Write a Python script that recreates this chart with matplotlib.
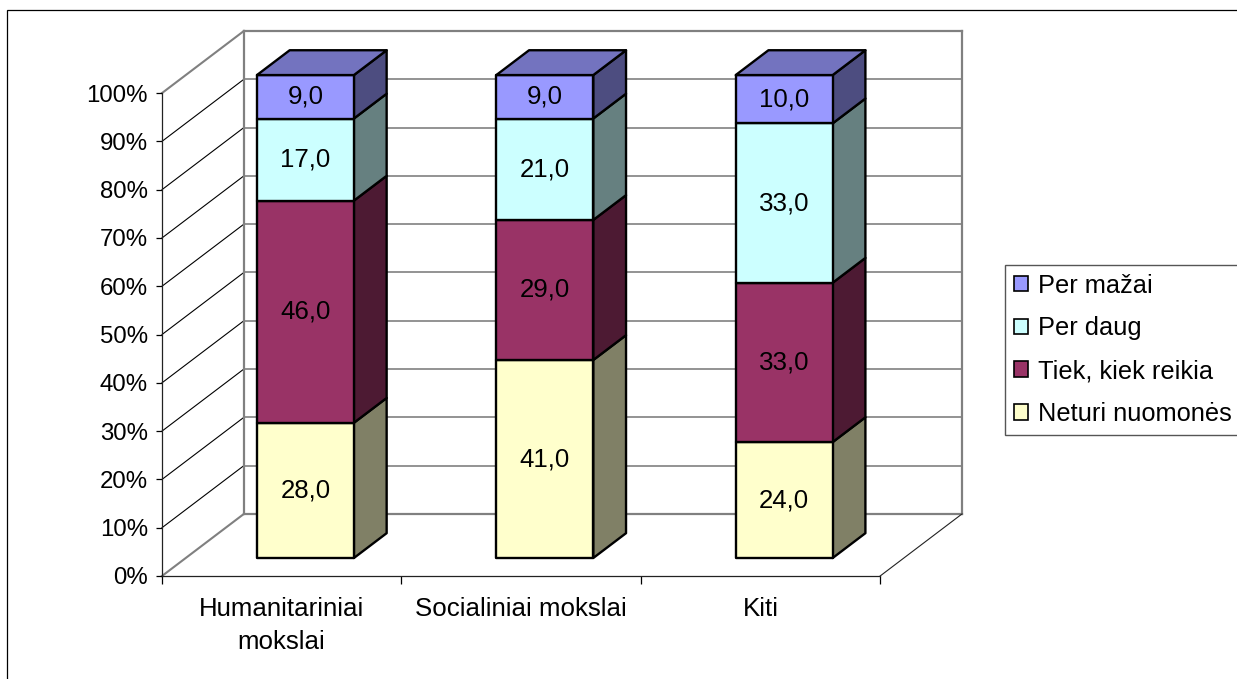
import matplotlib
matplotlib.use('Agg')
import matplotlib.pyplot as plt
from matplotlib.patches import Patch, Polygon, Rectangle

plt.rcParams['font.family'] = 'Liberation Sans'
plt.rcParams['font.size'] = 18.6

# Donnees
categories = ['Humanitariniai\nmokslai', 'Socialiniai mokslai', 'Kiti']
series_names = ['Neturi nuomonės', 'Tiek, kiek reikia', 'Per daug', 'Per mažai']
neturi = [28.0, 41.0, 24.0]
tiek = [46.0, 29.0, 33.0]
per_daug = [17.0, 21.0, 33.0]
per_mazai = [9.0, 9.0, 10.0]
series_values = [neturi, tiek, per_daug, per_mazai]
y_ticks = list(range(0, 101, 10))

front_colors = ['#FFFFCC', '#993366', '#CCFFFF', '#9999FF']
side_colors = ['#808066', '#4D1A33', '#668080', '#4D4D80']
top_color = '#7373BF'
wall_color = '#808080'

W, H = 1237, 679
# fausse 3D : decalage a l'ecran pour une profondeur de 1
depth_x = 0.342
depth_y = 12.85
bar_width = 0.405
bar_d0 = 0.29
bar_d1 = 0.69


def project(x, y, d):
    return x + d * depth_x, y + d * depth_y


def draw_segment(x_center, y0, y1, front, side, top=None):
    x0 = x_center - bar_width / 2
    x1 = x_center + bar_width / 2
    face = [project(x0, y0, bar_d0), project(x1, y0, bar_d0),
            project(x1, y1, bar_d0), project(x0, y1, bar_d0)]
    right = [project(x1, y0, bar_d0), project(x1, y0, bar_d1),
             project(x1, y1, bar_d1), project(x1, y1, bar_d0)]
    ax.add_patch(Polygon(right, fc=side, ec='black', lw=1.7, joinstyle='round', zorder=3))
    ax.add_patch(Polygon(face, fc=front, ec='black', lw=1.7, joinstyle='round', zorder=3))
    if top is not None:
        upper = [project(x0, y1, bar_d0), project(x1, y1, bar_d0),
                 project(x1, y1, bar_d1), project(x0, y1, bar_d1)]
        ax.add_patch(Polygon(upper, fc=top, ec='black', lw=1.7, joinstyle='round', zorder=3))


fig = plt.figure(figsize=(W / 100, H / 100), dpi=100)
ax = fig.add_axes([162 / W, (H - 576) / H, 800 / W, 545 / H])
n = len(categories)
ax.set_xlim(0, n + depth_x)
ax.set_ylim(0, 100 + depth_y)
ax.patch.set_visible(False)

# Cadre exterieur
fig.add_artist(Rectangle((7 / W, -0.01), 1.02, 1.01 - 10 / H, transform=fig.transFigure,
                         fc='none', ec='black', lw=0.9))

# Axes
ax.spines['top'].set_visible(False)
ax.spines['right'].set_visible(False)
for s in ['left', 'bottom']:
    ax.spines[s].set_linewidth(0.9)
    ax.spines[s].set_color('#222222')
ax.spines['left'].set_bounds(0, 100)
ax.spines['bottom'].set_bounds(0, n)

ax.set_yticks(y_ticks)
ax.set_yticklabels([f'{t}%' for t in y_ticks])
ax.tick_params(axis='y', length=4, width=0.9, pad=6, labelsize=17.3)
ax.set_xticks(range(n + 1))
ax.set_xticklabels([])
ax.tick_params(axis='x', which='major', length=6, width=0.9)
ax.set_xticks([i + 0.5 for i in range(n)], minor=True)
ax.set_xticklabels(categories, minor=True)
ax.tick_params(axis='x', which='minor', length=0, pad=15)
for lab in ax.get_xminorticklabels():
    lab.set_linespacing(1.5)

# Mur du fond et diagonales
for t in y_ticks:
    thick = t in (0, 100)
    xa, ya = project(0, t, 1)
    xb, yb = project(n, t, 1)
    ax.plot([xa, xb], [ya, yb], color=wall_color, lw=1.6 if thick else 1.2, zorder=1, clip_on=False)
    ax.plot([0, xa], [t, ya], color=wall_color if thick else 'black',
            lw=1.5 if thick else 0.8, zorder=1, clip_on=False)
for x in (0, n):
    xa, ya = project(x, 0, 1)
    xb, yb = project(x, 100, 1)
    ax.plot([xa, xb], [ya, yb], color=wall_color, lw=1.6, zorder=1, clip_on=False)
xa, ya = project(n, 0, 1)
ax.plot([n, xa], [0, ya], color='#222222', lw=0.8, zorder=1, clip_on=False)

# Barres empilees
for i in range(n):
    bottom = 0
    for j, values in enumerate(series_values):
        v = values[i]
        draw_segment(i + 0.5, bottom, bottom + v, front_colors[j], side_colors[j],
                     top_color if j == len(series_values) - 1 else None)
        tx, ty = project(i + 0.5, bottom + v / 2, bar_d0)
        ax.text(tx, ty, f'{v:.1f}'.replace('.', ','), ha='center', va='center',
                color='black', zorder=4)
        bottom += v

# Legende
handles = [Patch(fc=front_colors[j], ec='black', lw=1.2, label=series_names[j])
           for j in reversed(range(len(series_names)))]
leg = fig.legend(handles=handles, loc='upper left',
                 bbox_to_anchor=(1005 / W, 1 - 265 / H), borderaxespad=0,
                 fancybox=False, framealpha=1, edgecolor='#555555',
                 handlelength=0.57, handleheight=0.57, handletextpad=0.37,
                 labelspacing=0.74, borderpad=0.34, fontsize=18.3)
leg.get_frame().set_linewidth(1.0)

fig.savefig('out.png', dpi=100)
